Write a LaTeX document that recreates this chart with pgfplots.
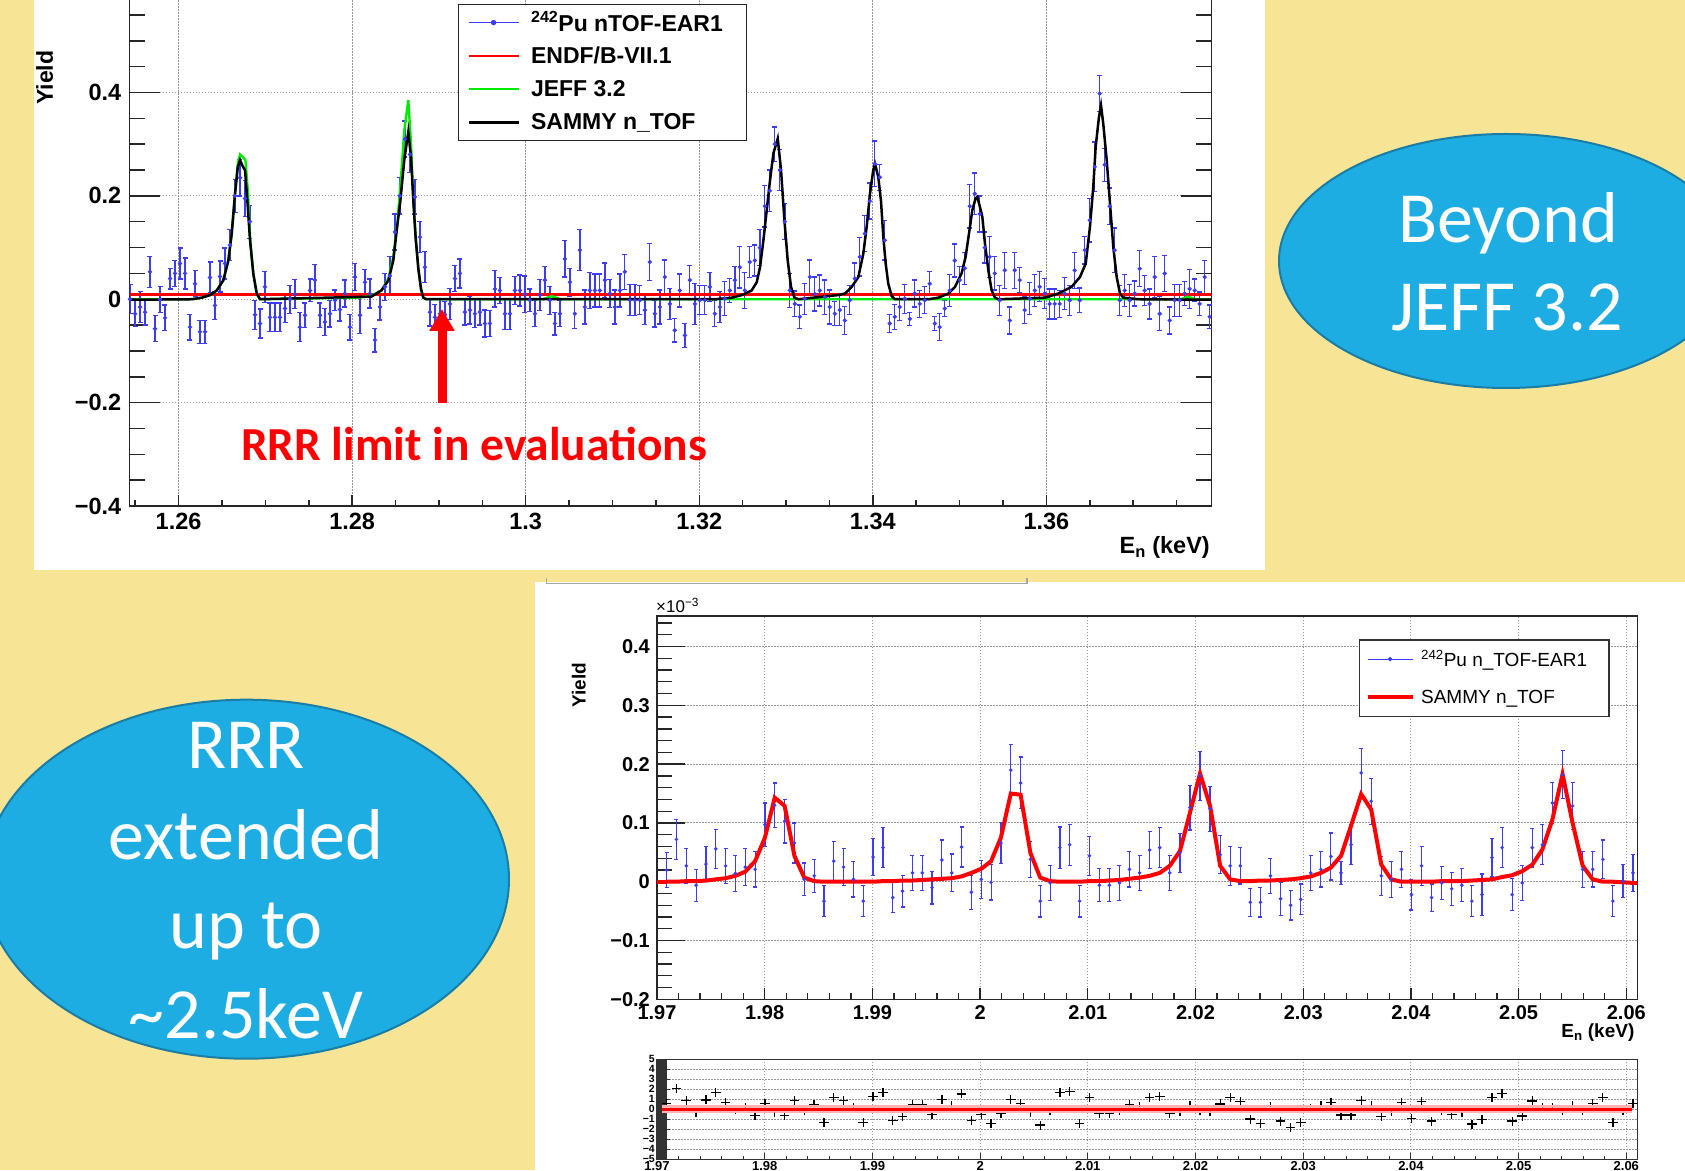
\documentclass[border=0pt]{standalone}
\usepackage{fontspec}
\setmainfont{Liberation Sans}
\newfontfamily\calibri{Carlito}
\usepackage{pgfplots}
\pgfplotsset{compat=1.18}
\usepackage{pgfplotstable}
\usetikzlibrary{arrows.meta}

\definecolor{bgyellow}{RGB}{247,229,149}
\definecolor{ellblue}{RGB}{30,173,226}
\definecolor{elledge}{RGB}{25,125,165}
\definecolor{datablue}{RGB}{60,60,245}
\definecolor{rootgreen}{RGB}{0,235,0}
\definecolor{gridgray}{RGB}{150,150,150}
\newcommand\fsz[1]{\fontsize{#1}{#1}\selectfont}

\pgfplotstableread{
E Y err
1.25440 0.000 0.028
1.25498 -0.028 0.025
1.25555 -0.015 0.030
1.25613 -0.025 0.025
1.25670 0.053 0.030
1.25728 -0.057 0.025
1.25786 0.000 0.025
1.25843 -0.036 0.025
1.25901 0.040 0.020
1.25958 0.050 0.025
1.26016 0.069 0.030
1.26074 0.050 0.030
1.26131 -0.054 0.025
1.26189 0.030 0.025
1.26246 -0.063 0.022
1.26304 -0.063 0.022
1.26362 0.042 0.030
1.26419 -0.012 0.027
1.26477 0.044 0.030
1.26534 0.069 0.030
1.26592 0.105 0.030
1.26650 0.200 0.032
1.26707 0.235 0.035
1.26765 0.195 0.035
1.26822 0.150 0.032
1.26880 -0.030 0.028
1.26938 -0.047 0.028
1.26995 0.024 0.030
1.27053 -0.035 0.028
1.27110 -0.035 0.028
1.27168 -0.035 0.028
1.27226 -0.018 0.027
1.27283 0.000 0.027
1.27341 0.010 0.028
1.27398 -0.054 0.028
1.27456 -0.031 0.024
1.27514 0.017 0.022
1.27571 0.037 0.030
1.27629 -0.031 0.024
1.27686 -0.044 0.026
1.27744 -0.028 0.026
1.27802 -0.002 0.020
1.27859 -0.020 0.022
1.27917 0.011 0.026
1.27974 -0.054 0.025
1.28032 0.043 0.026
1.28090 -0.031 0.035
1.28147 0.033 0.024
1.28205 0.011 0.028
1.28262 -0.079 0.023
1.28320 -0.015 0.025
1.28378 0.024 0.026
1.28435 0.045 0.038
1.28493 0.130 0.035
1.28550 0.200 0.035
1.28608 0.310 0.035
1.28666 0.280 0.035
1.28723 0.198 0.033
1.28781 0.120 0.030
1.28838 0.062 0.030
1.28896 -0.025 0.027
1.28954 -0.035 0.025
1.29011 -0.028 0.027
1.29069 -0.030 0.025
1.29126 -0.009 0.030
1.29184 0.040 0.025
1.29242 0.050 0.028
1.29299 -0.025 0.025
1.29357 -0.021 0.027
1.29414 -0.028 0.027
1.29472 -0.025 0.025
1.29530 -0.047 0.026
1.29587 -0.047 0.025
1.29645 0.020 0.035
1.29702 0.017 0.025
1.29760 -0.028 0.030
1.29818 -0.028 0.030
1.29875 0.017 0.027
1.29933 0.017 0.030
1.29990 0.010 0.035
1.30048 -0.002 0.022
1.30106 -0.028 0.025
1.30163 0.008 0.030
1.30221 0.037 0.027
1.30278 -0.002 0.027
1.30336 -0.047 0.022
1.30394 -0.028 0.025
1.30451 0.078 0.035
1.30509 0.033 0.027
1.30566 -0.028 0.028
1.30624 0.095 0.040
1.30682 -0.015 0.033
1.30739 0.017 0.035
1.30797 0.017 0.032
1.30854 0.017 0.032
1.30912 0.037 0.033
1.30970 0.011 0.027
1.31027 -0.015 0.033
1.31085 0.017 0.032
1.31142 0.053 0.034
1.31200 -0.002 0.030
1.31258 -0.002 0.030
1.31315 -0.002 0.028
1.31373 -0.021 0.028
1.31430 0.072 0.036
1.31488 -0.028 0.026
1.31546 -0.015 0.033
1.31603 0.043 0.033
1.31661 -0.009 0.030
1.31718 -0.060 0.023
1.31776 0.017 0.032
1.31834 -0.070 0.023
1.31891 0.037 0.028
1.31949 -0.009 0.040
1.32006 -0.002 0.028
1.32064 -0.002 0.028
1.32122 0.024 0.028
1.32179 -0.028 0.025
1.32237 -0.015 0.030
1.32294 0.001 0.033
1.32352 0.017 0.023
1.32410 0.037 0.027
1.32467 0.062 0.040
1.32525 0.017 0.035
1.32582 0.072 0.030
1.32640 0.075 0.030
1.32698 0.100 0.035
1.32755 0.180 0.040
1.32813 0.210 0.040
1.32870 0.300 0.033
1.32928 0.250 0.040
1.32986 0.150 0.035
1.33043 0.017 0.033
1.33101 -0.009 0.025
1.33158 -0.034 0.023
1.33216 0.001 0.030
1.33274 0.043 0.033
1.33331 0.010 0.033
1.33389 0.017 0.030
1.33446 0.004 0.033
1.33504 -0.015 0.033
1.33562 -0.028 0.023
1.33619 -0.021 0.030
1.33677 -0.041 0.027
1.33734 -0.002 0.028
1.33792 0.040 0.030
1.33850 0.082 0.037
1.33907 0.127 0.035
1.33965 0.190 0.035
1.34022 0.262 0.044
1.34080 0.236 0.025
1.34138 0.114 0.038
1.34195 -0.047 0.018
1.34253 -0.034 0.024
1.34310 -0.015 0.026
1.34368 0.001 0.028
1.34426 -0.038 0.013
1.34483 0.011 0.026
1.34541 -0.009 0.026
1.34598 -0.002 0.026
1.34656 0.030 0.023
1.34714 -0.047 0.013
1.34771 -0.054 0.026
1.34829 -0.018 0.016
1.34886 0.017 0.031
1.34944 0.075 0.032
1.35002 0.037 0.027
1.35059 0.060 0.031
1.35117 0.180 0.042
1.35174 0.204 0.040
1.35232 0.165 0.035
1.35290 0.100 0.030
1.35347 0.082 0.040
1.35405 0.050 0.032
1.35462 -0.002 0.029
1.35520 0.056 0.035
1.35578 -0.041 0.026
1.35635 0.056 0.035
1.35693 0.037 0.024
1.35750 -0.021 0.026
1.35808 0.001 0.031
1.35866 0.017 0.031
1.35923 0.024 0.029
1.35981 0.011 0.029
1.36038 -0.009 0.029
1.36096 -0.009 0.029
1.36154 -0.009 0.026
1.36211 0.011 0.031
1.36269 -0.002 0.029
1.36326 0.056 0.035
1.36384 -0.002 0.024
1.36442 0.095 0.027
1.36499 0.153 0.042
1.36557 0.256 0.048
1.36614 0.398 0.035
1.36672 0.260 0.032
1.36730 0.180 0.035
1.36787 0.095 0.043
1.36845 -0.002 0.029
1.36902 0.017 0.031
1.36960 -0.002 0.031
1.37018 0.011 0.024
1.37075 0.059 0.035
1.37133 0.017 0.029
1.37190 -0.009 0.029
1.37248 0.043 0.040
1.37306 -0.028 0.033
1.37363 0.050 0.035
1.37421 -0.041 0.026
1.37478 -0.002 0.031
1.37536 -0.002 0.031
1.37594 0.011 0.023
1.37651 0.020 0.038
1.37709 0.017 0.022
1.37766 -0.009 0.023
1.37824 0.043 0.032
1.37882 -0.034 0.023
}\topdata

\pgfplotstableread{
E Y err F R
1.97089 0.020 0.030 0.000 0.60
1.97180 0.072 0.034 0.000 2.10
1.97272 0.027 0.030 0.001 0.87
1.97363 -0.006 0.027 0.001 -0.33
1.97454 0.030 0.030 0.002 0.93
1.97546 0.056 0.033 0.004 1.67
1.97637 0.027 0.030 0.006 0.67
1.97728 0.014 0.030 0.010 0.00
1.97819 0.025 0.031 0.017 0.17
1.97911 0.021 0.030 0.035 -0.63
1.98002 0.097 0.037 0.075 0.60
1.98093 0.130 0.038 0.143 -0.30
1.98185 0.103 0.037 0.129 -0.63
1.98276 0.066 0.034 0.044 0.87
1.98367 0.004 0.028 0.007 -0.07
1.98459 0.010 0.028 0.001 0.43
1.98550 -0.033 0.026 0.000 -1.30
1.98641 0.035 0.033 0.000 1.17
1.98732 0.025 0.031 0.000 0.87
1.98824 0.004 0.030 0.000 0.13
1.98915 -0.033 0.026 0.000 -1.30
1.99006 0.042 0.031 0.000 1.27
1.99098 0.058 0.034 0.001 1.67
1.99189 -0.027 0.026 0.001 -1.13
1.99280 -0.016 0.027 0.002 -0.73
1.99372 0.015 0.030 0.002 0.50
1.99463 0.015 0.030 0.003 0.50
1.99554 -0.010 0.028 0.004 -0.50
1.99645 0.037 0.034 0.005 1.00
1.99737 0.015 0.032 0.006 0.33
1.99828 0.059 0.034 0.009 1.53
1.99919 -0.018 0.029 0.015 -1.13
2.00011 0.004 0.032 0.022 -0.50
2.00102 -0.001 0.030 0.035 -1.40
2.00193 0.066 0.035 0.075 -0.40
2.00285 0.190 0.043 0.150 1.00
2.00376 0.168 0.044 0.148 0.60
2.00467 0.038 0.031 0.049 -0.33
2.00558 -0.033 0.027 0.007 -1.57
2.00650 -0.002 0.030 0.001 -0.13
2.00741 0.058 0.035 0.000 1.70
2.00832 0.063 0.035 0.000 1.77
2.00924 -0.033 0.027 0.000 -1.40
2.01015 0.044 0.033 0.001 1.20
2.01107 -0.006 0.028 0.001 -0.40
2.01200 -0.006 0.028 0.002 -0.40
2.01294 -0.002 0.030 0.003 -0.13
2.01387 0.021 0.030 0.005 0.43
2.01481 0.015 0.030 0.007 0.27
2.01574 0.054 0.031 0.010 1.20
2.01668 0.058 0.034 0.015 1.27
2.01761 0.015 0.030 0.027 -0.40
2.01855 0.049 0.033 0.052 -0.23
2.01948 0.126 0.038 0.117 0.33
2.02042 0.180 0.042 0.184 -0.07
2.02135 0.124 0.038 0.129 -0.23
2.02229 0.046 0.032 0.027 0.53
2.02322 0.027 0.033 0.004 1.20
2.02416 0.027 0.031 0.001 0.77
2.02509 -0.035 0.024 0.001 -0.97
2.02603 -0.035 0.025 0.002 -1.40
2.02696 0.010 0.030 0.002 0.27
2.02790 -0.029 0.028 0.003 -1.17
2.02883 -0.040 0.025 0.004 -1.83
2.02977 -0.030 0.026 0.006 -1.30
2.03070 0.015 0.030 0.009 0.10
2.03164 0.021 0.030 0.015 0.33
2.03257 0.043 0.040 0.024 0.67
2.03351 0.015 0.020 0.044 -0.57
2.03444 0.063 0.034 0.095 -0.57
2.03538 0.185 0.041 0.149 0.87
2.03631 0.137 0.039 0.123 0.37
2.03725 0.010 0.033 0.029 -0.73
2.03818 0.004 0.031 0.004 -0.23
2.03912 0.021 0.031 0.000 0.67
2.04005 -0.022 0.026 0.000 -0.90
2.04099 0.027 0.033 0.000 0.77
2.04192 -0.027 0.023 0.000 -1.17
2.04286 -0.002 0.028 0.001 -0.07
2.04379 -0.012 0.028 0.001 -0.50
2.04473 -0.006 0.028 0.001 -0.33
2.04566 -0.033 0.026 0.002 -1.47
2.04660 -0.022 0.035 0.003 -1.00
2.04753 0.041 0.033 0.004 1.17
2.04847 0.058 0.034 0.008 1.60
2.04940 -0.022 0.027 0.011 -1.17
2.05034 -0.002 0.030 0.018 -0.67
2.05127 0.058 0.033 0.029 0.83
2.05221 0.063 0.034 0.055 0.20
2.05314 0.134 0.035 0.106 0.20
2.05408 0.182 0.041 0.183 -0.13
2.05501 0.129 0.040 0.100 0.33
2.05595 0.021 0.031 0.027 -0.07
2.05688 0.021 0.030 0.004 0.60
2.05782 0.038 0.033 0.000 1.17
2.05875 -0.033 0.026 0.000 -1.33
2.05969 0.001 0.028 -0.001 -0.07
2.06062 0.015 0.031 -0.002 0.60
}\botdata

\begin{document}
\begin{tikzpicture}[x=1pt,y=1pt]
\useasboundingbox (0,0) rectangle (1685,1170);
\fill[bgyellow] (0,0) rectangle (1685,1170);
\clip (0,0) rectangle (1685,1170);
\fill[white] (34.4,600) rectangle (1265.3,1170);
\fill[white] (534.5,0) rectangle (1685,588);
\draw[gray!70, line width=1.2pt] (546.8,592) -- (546.8,586.7) -- (1027,586.7) -- (1027,592);

% ---------------- top panel ----------------
\begin{axis}[
  at={(129.5pt,664pt)}, anchor=south west,
  width=1082.1pt, height=516.9pt, scale only axis,
  xmin=1.25434, xmax=1.37904, ymin=-0.4, ymax=0.6,
  xtick={1.26,1.28,1.30,1.32,1.34,1.36},
  xticklabels={1.26,1.28,1.3,1.32,1.34,1.36},
  minor xtick={1.255,1.265,1.27,1.275,1.285,1.29,1.295,1.305,1.31,1.315,1.325,1.33,1.335,1.345,1.35,1.355,1.365,1.37,1.375},
  ytick={-0.4,-0.2,0,0.2,0.4},
  yticklabels={−0.4,−0.2,0,0.2,0.4},
  minor ytick={-0.35,-0.3,-0.25,-0.15,-0.1,-0.05,0.05,0.1,0.15,0.25,0.3,0.35,0.45,0.5,0.55},
  tick align=inside,
  axis line style={black!85, line width=1.5pt},
  tick style={black!85, line width=1.5pt},
  xtick style={/pgfplots/major tick length=11pt, /pgfplots/minor tick length=6pt},
  ytick style={/pgfplots/major tick length=31pt, /pgfplots/minor tick length=15.6pt},
  grid=major,
  major grid style={draw=gridgray, line width=1pt, dash pattern=on 1.5pt off 1.5pt},
  xticklabel style={font=\fsz{23.5}\bfseries, inner sep=0pt, yshift=-7pt},
  yticklabel style={font=\fsz{23.5}\bfseries, inner sep=0pt, xshift=-8pt},
  xlabel={E\textsubscript{n} (keV)},
  xlabel style={at={(axis description cs:0.9985,-0.0803)}, anchor=east, font=\fsz{23.5}\bfseries, inner sep=0pt},
  ylabel={Yield},
  ylabel style={at={(axis description cs:-0.0785,0.8286)}, anchor=center, font=\fsz{23}\bfseries, inner sep=0pt},
  legend cell align=left,
  legend style={at={(0.3032,0.9718)}, anchor=north west, draw=black!85, line width=1.5pt, fill=white,
    inner xsep=0pt, inner ysep=1.5pt, row sep=0pt, column sep=0pt, font=\fsz{23}\bfseries,
    nodes={inner sep=0pt, minimum height=33.3pt, anchor=west}},
]
\addplot[datablue, only marks, mark=*, mark size=1.4pt, line width=1.3pt,
  legend image code/.code={\path[draw=none,fill=none] (-10.2pt,0pt) -- (62.5pt,0pt); \draw[datablue, line width=1.3pt] (0pt,0pt) -- (50pt,0pt); \fill[datablue] (25pt,0pt) circle (2pt);},
  error bars/.cd, y dir=both, y explicit,
  error bar style={datablue, line width=1.3pt},
  error mark options={rotate=90, datablue, mark size=2.5pt, line width=1.3pt}]
  table[x=E, y=Y, y error=err] {\topdata};
\addlegendentry{\textsuperscript{242}Pu nTOF-EAR1\rule{23.7pt}{0pt}}
\addplot[red, line width=2.4pt,
  legend image code/.code={\path[draw=none,fill=none] (-10.2pt,0pt) -- (62.5pt,0pt); \draw[red, line width=2.5pt] (0pt,0pt) -- (50pt,0pt);}]
  coordinates {(1.25434,0.009) (1.37904,0.009)};
\addlegendentry{ENDF/B-VII.1}
\addplot[rootgreen, line width=2.4pt,
  legend image code/.code={\path[draw=none,fill=none] (-10.2pt,0pt) -- (62.5pt,0pt); \draw[rootgreen, line width=2.5pt] (0pt,0pt) -- (50pt,0pt);}]
  coordinates {(1.25434,0.0) (1.26152,0.0) (1.26267,0.003) (1.26362,0.008) (1.26440,0.017) (1.26516,0.037) (1.26573,0.075) (1.26612,0.127) (1.26650,0.204) (1.26682,0.262) (1.26708,0.280) (1.26740,0.275) (1.26770,0.269) (1.26800,0.205) (1.26823,0.120) (1.26861,0.049) (1.26900,0.011) (1.26938,0.0)
  (1.28071,0.003) (1.28224,0.007) (1.28339,0.017) (1.28417,0.040) (1.28474,0.082) (1.28524,0.153) (1.28563,0.236) (1.28601,0.327) (1.28647,0.385) (1.28678,0.301) (1.28705,0.190) (1.28731,0.12) (1.28762,0.06) (1.28793,0.02) (1.28820,0.003) (1.28854,0.0)
  (1.3020,0.0) (1.3030,0.006) (1.3040,0.0) (1.3755,0.0) (1.3763,0.005) (1.3771,0.0) (1.37904,0.0)};
\addlegendentry{JEFF 3.2}
\addplot[black, line width=2.5pt,
  legend image code/.code={\path[draw=none,fill=none] (-10.2pt,0pt) -- (62.5pt,0pt); \draw[black, line width=2.5pt] (0pt,0pt) -- (50pt,0pt);}]
  coordinates {(1.25434,-0.001) (1.26152,0.0) (1.26267,0.003) (1.26362,0.008) (1.26440,0.017) (1.26516,0.037) (1.26573,0.075) (1.26612,0.127) (1.26650,0.204) (1.26682,0.256) (1.26708,0.269) (1.26734,0.259) (1.26766,0.249) (1.26792,0.191) (1.26823,0.114) (1.26861,0.049) (1.26900,0.011) (1.26938,0.0)
  (1.28221,0.005) (1.28336,0.017) (1.28417,0.036) (1.28474,0.075) (1.28509,0.127) (1.28555,0.19) (1.28601,0.27) (1.28647,0.324) (1.28678,0.275) (1.28705,0.19) (1.28731,0.12) (1.28762,0.06) (1.28793,0.02) (1.28820,0.003) (1.28854,0.0)
  (1.32182,0.0) (1.32374,0.003) (1.32489,0.008) (1.32604,0.017) (1.32662,0.033) (1.32700,0.062) (1.32739,0.114) (1.32777,0.172) (1.32815,0.23) (1.32854,0.282) (1.32904,0.311) (1.32942,0.25) (1.32981,0.153) (1.33019,0.075) (1.33057,0.024) (1.33096,0.003) (1.33142,0.0)
  (1.33368,0.004) (1.33599,0.008) (1.33679,0.011) (1.33757,0.024) (1.33833,0.043) (1.33890,0.088) (1.33929,0.14) (1.33967,0.204) (1.34005,0.25) (1.34025,0.262) (1.34063,0.236) (1.34094,0.19) (1.34121,0.12) (1.34148,0.069) (1.34178,0.03) (1.34217,0.006) (1.34255,0.0)
  (1.34640,0.0) (1.34755,0.003) (1.34870,0.011) (1.34947,0.024) (1.35023,0.05) (1.35069,0.082) (1.35108,0.127) (1.35146,0.172) (1.35184,0.195) (1.35204,0.198) (1.35235,0.178) (1.35262,0.159) (1.35292,0.108) (1.35331,0.056) (1.35369,0.017) (1.35408,0.003) (1.35446,0.0)
  (1.35984,0.003) (1.36137,0.011) (1.36291,0.024) (1.36387,0.043) (1.36453,0.069) (1.36502,0.14) (1.36540,0.217) (1.36568,0.295) (1.36606,0.353) (1.36629,0.375) (1.36655,0.34) (1.36695,0.269) (1.36733,0.185) (1.36771,0.101) (1.36810,0.043) (1.36848,0.011) (1.36886,0.003) (1.37059,0.0) (1.37904,-0.001)};
\addlegendentry{SAMMY n\_TOF}
\end{axis}

\node[anchor=base west, inner sep=0pt, text=red, font=\calibri\bfseries\fsz{47.4}] at (241,709.5) {RRR limit in evaluations};
\draw[red, line width=9pt, -{Triangle[width=24pt,length=22pt]}] (442,767) -- (442,861);

% ---------------- bottom main panel ----------------
\begin{axis}[
  at={(657pt,170.7pt)}, anchor=south west,
  width=980.5pt, height=383.3pt, scale only axis,
  xmin=1.97, xmax=2.06104, ymin=-0.2, ymax=0.452,
  xtick={1.97,1.98,1.99,2.00,2.01,2.02,2.03,2.04,2.05,2.06},
  xticklabels={1.97,1.98,1.99,2,2.01,2.02,2.03,2.04,2.05,2.06},
  minor x tick num=4,
  ytick={-0.2,-0.1,0,0.1,0.2,0.3,0.4},
  yticklabels={−0.2,−0.1,0,0.1,0.2,0.3,0.4},
  minor ytick={-0.18,-0.16,-0.14,-0.12,-0.08,-0.06,-0.04,-0.02,0.02,0.04,0.06,0.08,0.12,0.14,0.16,0.18,0.22,0.24,0.26,0.28,0.32,0.34,0.36,0.38,0.42,0.44},
  tick pos=left, tick align=inside,
  axis line style={black!85, line width=1.3pt},
  tick style={black!85, line width=1.3pt},
  xtick style={/pgfplots/major tick length=11pt, /pgfplots/minor tick length=6pt},
  ytick style={/pgfplots/major tick length=28pt, /pgfplots/minor tick length=15pt},
  grid=major,
  major grid style={draw=gridgray, line width=1pt, dash pattern=on 1.5pt off 1.5pt},
  xticklabel style={font=\fsz{20}\bfseries, inner sep=0pt, yshift=-6pt},
  yticklabel style={font=\fsz{20}\bfseries, inner sep=0pt, xshift=-7pt},
  xlabel={E\textsubscript{n} (keV)},
  xlabel style={at={(axis description cs:0.997,-0.088)}, anchor=east, font=\fsz{19}\bfseries, inner sep=0pt},
  ylabel={Yield},
  ylabel style={at={(axis description cs:-0.0796,0.82)}, anchor=center, font=\fsz{19}\bfseries, inner sep=0pt},
  legend cell align=left,
  legend style={at={(0.7155,0.9392)}, anchor=north west, draw=black!80, line width=1.3pt, fill=white,
    inner xsep=0pt, inner ysep=0pt, row sep=0pt, column sep=0pt, font=\fsz{19},
    nodes={inner sep=0pt, minimum height=38.3pt, anchor=west}},
]
\addplot[datablue, only marks, mark=*, mark size=1.1pt, line width=1.2pt,
  legend image code/.code={\path[draw=none,fill=none] (-8.9pt,0pt) -- (53pt,0pt); \draw[datablue, line width=1pt] (0pt,0pt) -- (44.4pt,0pt); \fill[datablue] (22pt,0pt) circle (1.5pt);},
  error bars/.cd, y dir=both, y explicit,
  error bar style={datablue, line width=1.2pt},
  error mark options={rotate=90, datablue, mark size=2pt, line width=1.2pt}]
  table[x=E, y=Y, y error=err] {\botdata};
\addlegendentry{\textsuperscript{242}Pu n\_TOF-EAR1\rule{22pt}{0pt}}
\addplot[red, line width=4pt,
  legend image code/.code={\path[draw=none,fill=none] (-8.9pt,0pt) -- (53pt,0pt); \draw[red, line width=4pt] (0pt,0pt) -- (44.4pt,0pt);}]
  table[x=E, y=F] {\botdata};
\addlegendentry{SAMMY n\_TOF}
\addplot[red, line width=4pt, forget plot] coordinates {(1.97,0.0) (1.97089,0.0)};
\addplot[red, line width=4pt, forget plot] coordinates {(2.06062,-0.002) (2.06104,-0.002)};
\end{axis}
\node[anchor=base west, inner sep=0pt, font=\fsz{17}] at (656,557) {×10\textsuperscript{−3}};

% ---------------- residual panel ----------------
\begin{axis}[
  at={(657pt,10.7pt)}, anchor=south west,
  width=980.5pt, height=100pt, scale only axis,
  xmin=1.97, xmax=2.06104, ymin=-5, ymax=5,
  xtick={1.97,1.98,1.99,2.00,2.01,2.02,2.03,2.04,2.05,2.06},
  xticklabels={1.97,1.98,1.99,2,2.01,2.02,2.03,2.04,2.05,2.06},
  minor x tick num=4,
  ytick={-5,-4,-3,-2,-1,0,1,2,3,4,5},
  yticklabels={−5,−4,−3,−2,−1,0,1,2,3,4,5},
  minor y tick num=9,
  tick pos=left, tick align=inside,
  axis line style={black!80, line width=1.2pt},
  tick style={black!80, line width=1pt},
  xtick style={/pgfplots/major tick length=6pt, /pgfplots/minor tick length=3pt},
  ytick style={/pgfplots/major tick length=13pt, /pgfplots/minor tick length=10pt},
  grid=major,
  major grid style={draw=gridgray, line width=1pt, dash pattern=on 1.5pt off 1.5pt},
  xticklabel style={font=\fsz{13}\bfseries, inner sep=0pt, yshift=-2pt},
  yticklabel style={font=\fsz{10.5}\bfseries, inner sep=0pt, xshift=-2pt},
]
\addplot[black, only marks, mark=*, mark size=0.01pt,
  error bars/.cd, x dir=both, x fixed=0.00045, y dir=both, y fixed=0.45,
  error mark=none, error bar style={black, line width=1.3pt}]
  table[x=E, y=R] {\botdata};
\addplot[red!30, line width=8pt] coordinates {(1.97044,0) (2.0605,0)};
\addplot[red, line width=3.5pt] coordinates {(1.97044,0) (2.0605,0)};
\end{axis}

% ---------------- ellipses ----------------
\draw[fill=ellblue, draw=elledge, line width=2pt] (1506,909) ellipse [x radius=227pt, y radius=127pt];
\node[anchor=base, inner sep=0pt, text=white, font=\calibri\fsz{72}] at (1508,927.7) {Beyond};
\node[anchor=base, inner sep=0pt, text=white, font=\calibri\fsz{72}] at (1507,839) {JEFF 3.2};

\draw[fill=ellblue, draw=elledge, line width=2pt] (246.3,290.8) ellipse [x radius=262.7pt, y radius=179.5pt];
\node[anchor=base, inner sep=0pt, text=white, font=\calibri\fsz{72}] at (246,401.1) {RRR};
\node[anchor=base, inner sep=0pt, text=white, font=\calibri\fsz{72}] at (246,310.8) {extended};
\node[anchor=base, inner sep=0pt, text=white, font=\calibri\fsz{72}] at (246,221.2) {up to};
\node[anchor=base, inner sep=0pt, text=white, font=\calibri\fsz{72}] at (246,131.7) {\textasciitilde 2.5keV};
\end{tikzpicture}
\end{document}
